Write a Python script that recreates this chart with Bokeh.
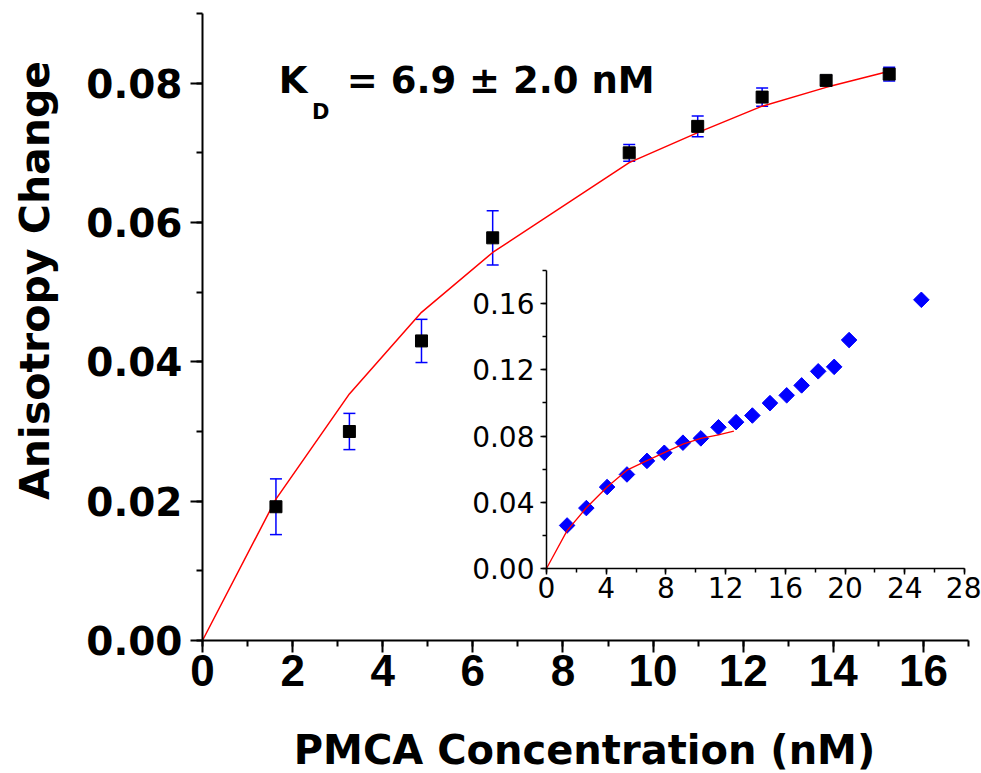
import numpy as np
from bokeh.plotting import figure
from bokeh.models import (ColumnDataSource, Range1d, LinearAxis, SingleIntervalTicker,
                          NumeralTickFormatter, Whisker, TeeHead, Label)
from bokeh.embed import file_html
from bokeh.resources import INLINE

# ---------------- data ----------------
conc = [1.63, 3.26, 4.86, 6.44, 9.47, 10.99, 12.42, 13.84, 15.24]
aniso = [0.0192, 0.0300, 0.0430, 0.0578, 0.0700, 0.0738, 0.0780, 0.0804, 0.0813]
aniso_err = [0.0040, 0.0026, 0.0031, 0.0039, 0.0012, 0.0015, 0.0013, 0.0007, 0.0010]

fit_x = [0.0, 1.63, 3.26, 4.86, 6.44, 9.47, 10.99, 12.42, 13.84, 15.24]
fit_y = [0.0, 0.0203, 0.0354, 0.0471, 0.0557, 0.0686, 0.0729, 0.0767, 0.0794, 0.0817]

inset_x = [1.38, 2.67, 4.06, 5.39, 6.73, 7.89, 9.14, 10.34, 11.52, 12.70,
           13.79, 14.97, 16.09, 17.09, 18.20, 19.27, 20.27, 25.11]
inset_y = [0.0260, 0.0365, 0.0492, 0.0568, 0.0650, 0.0699, 0.0760, 0.0786, 0.0853, 0.0884,
           0.0924, 0.0999, 0.1046, 0.1106, 0.1191, 0.1218, 0.1380, 0.1623]
inset_fit_x = [0.0, 1.38, 2.67, 4.06, 5.39, 6.73, 7.89, 9.14, 10.34, 11.52, 12.55]
inset_fit_y = [0.0, 0.0229, 0.0367, 0.0492, 0.0594, 0.0652, 0.0700, 0.0751, 0.0786, 0.0807, 0.0830]

x_title = "PMCA Concentration (nM)"
y_title = "Anisotropy Change"

# ---------------- layout constants (pixels) ----------------
W, H = 981, 773
ML, MR, MT, MB = 202, 968, 13, 640          # main axes box (x=0..17, y=0..0.09)
IL, IR, IT, IB = 546, 964, 270, 568         # inset axes box (x=0..28, y=0..0.18)
XMAX, YMAX = 17, 0.09
IXMAX, IYMAX = 28, 0.18
ALPHA_SHIFT = 0.35                           # em offset of Bokeh's alphabetic baseline

# the frame covers the whole canvas; axes are pinned with fixed_location
xppu = (MR - ML) / XMAX
yppu = (MB - MT) / YMAX
ixppu = (IR - IL) / IXMAX
iyppu = (IB - IT) / IYMAX

def mx(px):
    return (px - ML) / xppu

def my(py):
    return (MB - py) / yppu

p = figure(width=W, height=H, output_backend="svg", toolbar_location=None,
           x_range=Range1d(mx(0), mx(W)), y_range=Range1d(my(H), my(0)),
           x_axis_type=None, y_axis_type=None,
           min_border_left=0, min_border_right=0, min_border_top=0, min_border_bottom=0)
p.grid.visible = False
p.outline_line_color = None
p.background_fill_color = "white"
p.border_fill_color = "white"
p.extra_x_ranges = {"ix": Range1d(-IL / ixppu, (W - IL) / ixppu)}
p.extra_y_ranges = {"iy": Range1d(-(H - IB) / iyppu, IB / iyppu)}

# ---------------- main axes ----------------
xa = LinearAxis(fixed_location=0, bounds=(0, XMAX),
                ticker=SingleIntervalTicker(interval=2, num_minor_ticks=2))
ya = LinearAxis(fixed_location=0, bounds=(0, YMAX),
                ticker=SingleIntervalTicker(interval=0.02, num_minor_ticks=2),
                formatter=NumeralTickFormatter(format="0.00"))
for ax in (xa, ya):
    ax.axis_line_width = 2
    ax.axis_line_color = "black"
    ax.major_tick_line_width = 2
    ax.minor_tick_line_width = 2
    ax.major_tick_line_color = "black"
    ax.minor_tick_line_color = "black"
    ax.major_tick_out = 12
    ax.major_tick_in = 0
    ax.minor_tick_out = 6
    ax.minor_tick_in = 0
    ax.major_label_text_color = "black"
    ax.major_label_text_font_style = "bold"
xa.major_label_text_font = "Liberation Sans"
xa.major_label_text_font_size = "44px"
xa.major_label_standoff = 2
ya.major_label_text_font = "DejaVu Sans"
ya.major_label_text_font_size = "39px"
ya.major_label_standoff = 8
p.add_layout(xa, "below")
p.add_layout(ya, "left")

title_font = dict(text_font="DejaVu Sans", text_font_style="bold", text_color="black",
                  text_baseline="alphabetic", text_align="center")
# x title: centre x 584 px, baseline 763 px
p.add_layout(Label(x=mx(584), y=my(763 - ALPHA_SHIFT * 40), text=x_title,
                   text_font_size="40px", **title_font))
# y title: centre y 280 px, baseline at x = 49 px (rotated)
p.add_layout(Label(x=mx(49 - ALPHA_SHIFT * 41), y=my(280), text=y_title, angle=np.pi / 2,
                   text_font_size="41px", **title_font))

# ---------------- main data ----------------
src = ColumnDataSource(dict(x=conc, y=aniso,
                            lo=[a - e for a, e in zip(aniso, aniso_err)],
                            hi=[a + e for a, e in zip(aniso, aniso_err)]))
p.line(fit_x, fit_y, line_color="#FF0000", line_width=1.5)
wh = Whisker(source=src, base="x", upper="hi", lower="lo", dimension="height",
             line_color="#0000FF", line_width=1.5, level="underlay",
             upper_head=TeeHead(size=12, line_color="#0000FF", line_width=1.5),
             lower_head=TeeHead(size=12, line_color="#0000FF", line_width=1.5))
p.add_layout(wh)
p.scatter("x", "y", source=src, marker="square", size=12, fill_color="black",
          line_color="black")

# K_D annotation
kd_font = dict(text_font="DejaVu Sans", text_font_style="bold", text_color="black",
               text_baseline="alphabetic")
p.add_layout(Label(x=1.693, y=0.0804, text="K", text_font_size="37px", **kd_font))
p.add_layout(Label(x=2.428, y=0.0759, text="D", text_font_size="21px", **kd_font))
p.add_layout(Label(x=3.202, y=0.0804, text="= 6.9 ± 2.0 nM", text_font_size="37px", **kd_font))

# ---------------- inset ----------------
iya = LinearAxis(x_range_name="ix", y_range_name="iy", fixed_location=0,
                 bounds=(0, IYMAX),
                 ticker=SingleIntervalTicker(interval=0.04, num_minor_ticks=2),
                 formatter=NumeralTickFormatter(format="0.00"))
ixa = LinearAxis(x_range_name="ix", y_range_name="iy", fixed_location=0,
                 bounds=(0, IXMAX),
                 ticker=SingleIntervalTicker(interval=4, num_minor_ticks=2))
for ax in (iya, ixa):
    ax.axis_line_width = 1.5
    ax.axis_line_color = "black"
    ax.major_tick_line_width = 1.5
    ax.minor_tick_line_width = 1.5
    ax.major_tick_line_color = "black"
    ax.minor_tick_line_color = "black"
    ax.major_tick_out = 6
    ax.major_tick_in = 0
    ax.minor_tick_out = 4
    ax.minor_tick_in = 0
    ax.major_label_text_font = "DejaVu Sans"
    ax.major_label_text_font_size = "28px"
    ax.major_label_text_color = "black"
iya.major_label_standoff = 6
ixa.major_label_standoff = 2
p.add_layout(iya, "left")
p.add_layout(ixa, "below")

p.scatter(inset_x, inset_y, x_range_name="ix", y_range_name="iy", marker="square",
          angle=np.pi / 4, size=11, fill_color="#0000FF", line_color="#0000FF")
p.line(inset_fit_x, inset_fit_y, x_range_name="ix", y_range_name="iy",
       line_color="#FF0000", line_width=1.3)

open("out.html", "w").write(file_html(p, INLINE))
